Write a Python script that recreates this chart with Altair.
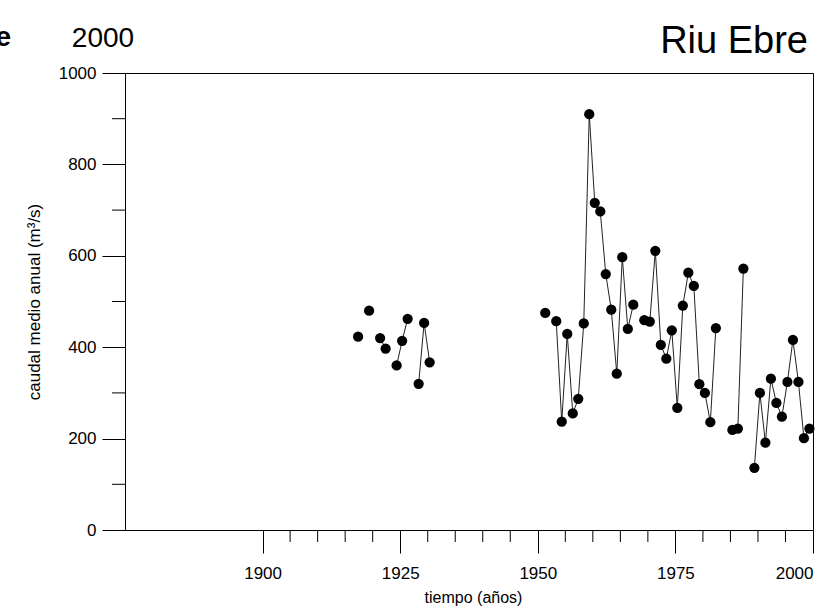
import altair as alt
import pandas as pd

# ---- data ----
years = [1917, 1919, 1921, 1922, 1924, 1925, 1926, 1928, 1929, 1930,
         1951, 1953, 1954, 1955, 1956, 1957, 1958, 1959, 1960, 1961,
         1962, 1963, 1964, 1965, 1966, 1967, 1969, 1970, 1971, 1972,
         1973, 1974, 1975, 1976, 1977, 1978, 1979, 1980, 1981, 1982,
         1985, 1986, 1987, 1989, 1990, 1991, 1992, 1993, 1994, 1995,
         1996, 1997, 1998, 1999]
caudal = [423, 480, 420, 397, 360, 414, 462, 320, 453, 367,
          475, 457, 237, 429, 255, 287, 452, 910, 716, 697,
          560, 482, 342, 597, 440, 493, 459, 456, 611, 405,
          375, 437, 267, 491, 563, 534, 319, 300, 236, 442,
          219, 222, 572, 136, 300, 191, 331, 278, 248, 324,
          416, 324, 201, 222]

x_major = [1900, 1925, 1950, 1975, 2000]
x_minor = [1905, 1910, 1915, 1920, 1930, 1935, 1940, 1945, 1955, 1960,
           1965, 1970, 1980, 1985, 1990, 1995]
y_major = [0, 200, 400, 600, 800, 1000]
y_minor = [100, 300, 500, 700, 900]

# segments of consecutive years (gaps break the line)
seg, s = [], 0
for i, y in enumerate(years):
    if i > 0 and y - years[i - 1] > 1:
        s += 1
    seg.append(s)

df = pd.DataFrame({"year": years, "caudal": caudal, "seg": seg})

FONT = "Liberation Sans, Arial, Helvetica, sans-serif"

W, H = 688, 457

xscale = alt.Scale(domain=[1875, 2000], nice=False, zero=False)
yscale = alt.Scale(domain=[0, 1000], nice=False)

common = dict(grid=False, domainColor="black", tickColor="black", labelColor="black",
              titleColor="black", labelFont=FONT, titleFont=FONT, labelFontSize=17,
              titleFontWeight="normal", tickWidth=1, domainWidth=1)

xaxis = alt.Axis(values=x_major, format="d", tickSize=23, labelPadding=12,
                 title="tiempo (años)", titleX=W / 2 + 4, titleY=67, titleFontSize=16,
                 titleBaseline="middle", titleAlign="center", **common)
yaxis = alt.Axis(values=y_major, format="d", tickSize=23, labelPadding=6,
                 title="caudal medio anual (m³/s)", titleX=-91, titleY=H / 2,
                 titleFontSize=17,
                 titleBaseline="middle", titleAlign="center", titleAngle=-90, **common)

base = alt.Chart(df).transform_calculate(xpos="datum.year + 0.35")

line = base.mark_line(color="#222222", strokeWidth=1).encode(
    x=alt.X("xpos:Q", scale=xscale, axis=xaxis),
    y=alt.Y("caudal:Q", scale=yscale, axis=yaxis),
    detail="seg:N",
)
points = base.mark_circle(color="black", opacity=1, size=105).encode(
    x=alt.X("xpos:Q", scale=xscale),
    y=alt.Y("caudal:Q", scale=yscale),
)

minor_y = alt.Chart(pd.DataFrame({"v": y_minor})).mark_rule(color="black", strokeWidth=1).encode(
    y=alt.Y("v:Q", scale=yscale), x=alt.value(-13), x2=alt.value(0)
)
minor_x = alt.Chart(pd.DataFrame({"v": x_minor})).mark_rule(color="black", strokeWidth=1).encode(
    x=alt.X("v:Q", scale=xscale), y=alt.value(H), y2=alt.value(H + 12)
)

one = pd.DataFrame({"t": [0]})
title_txt = alt.Chart(one).mark_text(align="right", baseline="alphabetic", fontSize=38,
                                     font=FONT, color="black").encode(
    x=alt.value(683), y=alt.value(-20), text=alt.value("Riu Ebre"))
year_txt = alt.Chart(one).mark_text(align="center", baseline="alphabetic", fontSize=28,
                                    font=FONT, color="black").encode(
    x=alt.value(-22), y=alt.value(-26), text=alt.value("2000"))
e_txt = alt.Chart(one).mark_text(align="right", baseline="alphabetic", fontSize=28,
                                 fontWeight="bold", font=FONT, color="black").encode(
    x=alt.value(-114), y=alt.value(-27), text=alt.value("e"))

chart = alt.layer(line, points, minor_y, minor_x, title_txt, year_txt, e_txt).properties(
    width=W, height=H,
    autosize=alt.AutoSizeParams(type="none"),
    padding={"left": 125, "top": 73, "right": 20, "bottom": 77},
    background="white",
).configure_view(stroke="black", strokeWidth=1)

chart.save("out.html", embed_options={"renderer": "svg", "actions": False})
